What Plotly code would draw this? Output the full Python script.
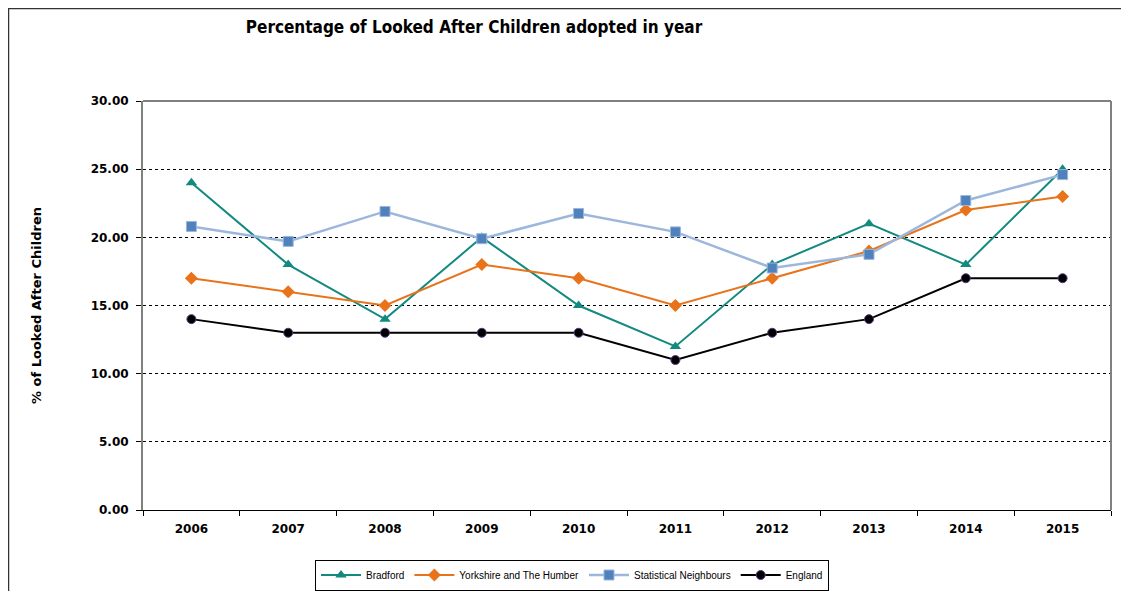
import plotly.graph_objects as go

years = ["2006", "2007", "2008", "2009", "2010", "2011", "2012", "2013", "2014", "2015"]
bradford = [24.0, 18.0, 14.0, 20.0, 15.0, 12.0, 18.0, 21.0, 18.0, 25.0]
yorkshire = [17.0, 16.0, 15.0, 18.0, 17.0, 15.0, 17.0, 19.0, 22.0, 23.0]
stat_neighbours = [20.8, 19.7, 21.9, 19.9, 21.75, 20.4, 17.75, 18.75, 22.7, 24.6]
england = [14.0, 13.0, 13.0, 13.0, 13.0, 11.0, 13.0, 14.0, 17.0, 17.0]

# page body has an 8px margin: figure occupies screen x 8..1129, y 8..591
W, H = 1121, 583
L, R, T, B = 135, 18, 93, 81
PW, PH = W - L - R, H - T - B

fig = go.Figure()
fig.add_trace(go.Scatter(x=years, y=bradford, name="Bradford", mode="lines+markers",
                         line=dict(color="#138A80", width=2),
                         marker=dict(symbol="triangle-up", size=10, color="#138A80")))
fig.add_trace(go.Scatter(x=years, y=yorkshire, name="Yorkshire and The Humber", mode="lines+markers",
                         line=dict(color="#E8731A", width=2),
                         marker=dict(symbol="diamond", size=10, color="#E8731A")))
fig.add_trace(go.Scatter(x=years, y=stat_neighbours, name="Statistical Neighbours", mode="lines+markers",
                         line=dict(color="#9DB7DC", width=2.5),
                         marker=dict(symbol="square", size=10, color="#4F81BD",
                                     line=dict(color="#9DB7DC", width=1))))
fig.add_trace(go.Scatter(x=years, y=england, name="England", mode="lines+markers",
                         line=dict(color="#000000", width=2),
                         marker=dict(symbol="circle", size=9, color="#000000",
                                     line=dict(color="#5B3A80", width=1))))

fig.update_layout(
    width=W, height=H,
    margin=dict(l=L, r=R, t=T, b=B, autoexpand=False),
    paper_bgcolor="white", plot_bgcolor="white",
    title=dict(text="<b>Percentage of Looked After Children adopted in year</b>",
               x=466 / W, xanchor="center", y=1 - 19 / H, yanchor="middle",
               font=dict(family="DejaVu Sans Condensed, DejaVu Sans", size=17, color="#000000")),
    showlegend=True,
    legend=dict(orientation="h", x=(564 - L) / PW, xanchor="center",
                yref="container", y=1 - 567 / H, yanchor="middle",
                font=dict(family="Liberation Sans, Arial", size=10, color="#000000"),
                bordercolor="#000000", borderwidth=1, bgcolor="white",
                itemwidth=40, tracegroupgap=0),
    xaxis=dict(type="category", tickson="boundaries", ticks="outside", ticklen=5,
               tickcolor="#000000", showline=True, linecolor="#000000", linewidth=1,
               showgrid=False, range=[-0.5, 9.5], ticklabelstandoff=8,
               tickfont=dict(family="DejaVu Sans", size=12, color="#000000", weight="bold")),
    yaxis=dict(range=[0, 30], dtick=5, tickformat=".2f", ticks="outside", ticklen=5,
               tickcolor="#000000", showline=True, linecolor="#808080", linewidth=2,
               showgrid=True, gridcolor="#000000", gridwidth=1, griddash="dot",
               zeroline=False, ticklabelstandoff=5,
               tickfont=dict(family="DejaVu Sans", size=12, color="#000000", weight="bold"),
               title=dict(text="<b>% of Looked After Children</b>", standoff=46,
                          font=dict(family="DejaVu Sans", size=13, color="#000000"))),
)

# top border (black) and right border (grey) of plot area
fig.add_shape(type="line", xref="paper", yref="paper", x0=0, x1=1, y0=1, y1=1,
              line=dict(color="#000000", width=1))
fig.add_shape(type="line", xref="paper", yref="paper", x0=1, x1=1, y0=0, y1=1,
              line=dict(color="#808080", width=2))
# outer chart frame (extends past right and bottom edges)
fig.add_shape(type="rect", xref="paper", yref="paper",
              x0=-(L - 0.5) / PW, x1=(W + 20 - L) / PW,
              y0=-(B + 20) / PH, y1=(PH + T - 0.5) / PH,
              line=dict(color="#333333", width=1.5))

fig.write_html("out.html")
